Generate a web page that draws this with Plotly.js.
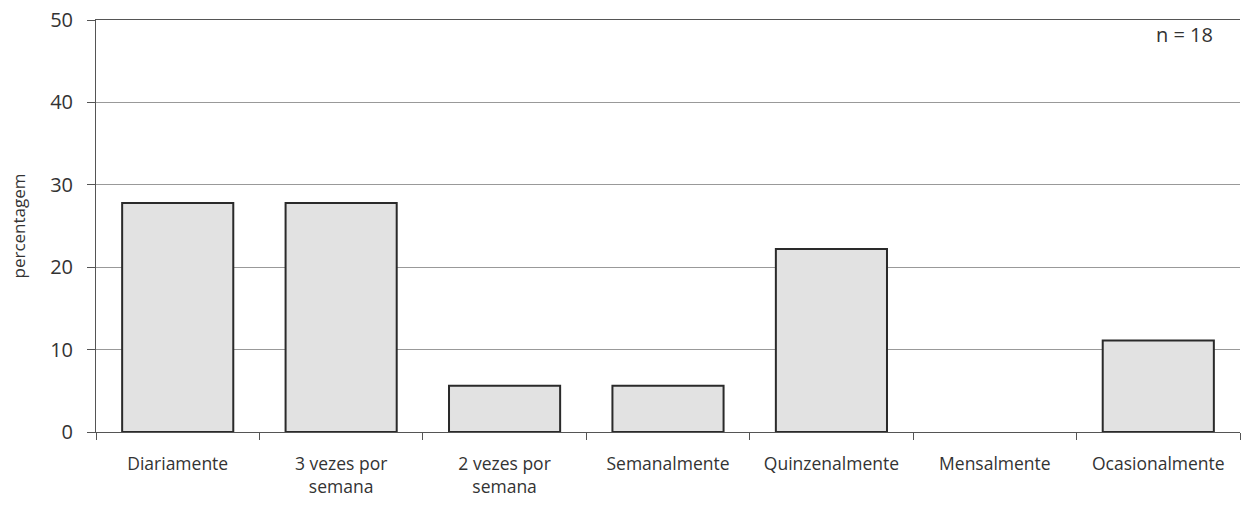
<!DOCTYPE html>
<html>
<head>
<meta charset="utf-8">
<script src="https://cdn.plot.ly/plotly-3.0.1.min.js"></script>
<style>html,body{margin:0;padding:0;background:#fff;}#chart{width:1247px;height:513px;}</style>
</head>
<body>
<div id="chart"></div>
<script>
const categories = ["Diariamente", "3 vezes por<br>semana", "2 vezes por<br>semana", "Semanalmente", "Quinzenalmente", "Mensalmente", "Ocasionalmente"];
const percentages = [27.8, 27.8, 5.6, 5.6, 22.2, 0, 11.1];
const yTicks = [0, 10, 20, 30, 40, 50];
const noteText = "n = 18";
const yTitle = "percentagem";

const trace = {
  type: "bar",
  x: categories,
  y: percentages,
  marker: {
    color: "#e2e2e2",
    line: {color: "#2a2a2a", width: percentages.map(v => v > 0 ? 2 : 0)}
  },
  hoverinfo: "none"
};

const layout = {
  width: 1247, height: 513,
  margin: {l: 96, r: 7, t: 20, b: 81},
  paper_bgcolor: "#fff", plot_bgcolor: "#fff",
  font: {family: "Open Sans, sans-serif", size: 16, color: "#333"},
  bargap: 0.32,
  showlegend: false,
  xaxis: {
    type: "category",
    tickson: "boundaries",
    ticks: "outside", ticklen: 7, tickcolor: "#555", tickwidth: 1,
    showline: true, linecolor: "#555", linewidth: 1, mirror: true,
    showgrid: false,
    ticklabelstandoff: 16,
    tickfont: {size: 17.5, color: "#333"}
  },
  yaxis: {
    range: [0, 50],
    tickvals: yTicks,
    ticks: "outside", ticklen: 8, tickcolor: "#555",
    showline: true, linecolor: "#555", linewidth: 1,
    showgrid: true, gridcolor: "#999", gridwidth: 1,
    zeroline: false,
    ticklabelstandoff: 10,
    tickfont: {size: 20, color: "#333"},
    title: {text: yTitle, font: {size: 17, color: "#333"}, standoff: 20}
  },
  annotations: [{
    text: noteText, xref: "paper", yref: "paper", x: 0.978, y: 0.965,
    xanchor: "right", yanchor: "middle", showarrow: false,
    font: {size: 20, color: "#333"}
  }]
};

Plotly.newPlot("chart", [trace], layout, {displayModeBar: false, staticPlot: true});
</script>
</body>
</html>
